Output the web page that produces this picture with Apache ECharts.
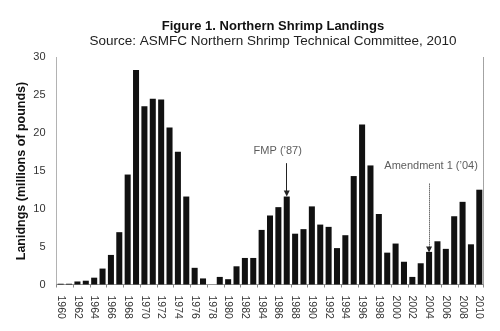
<!DOCTYPE html>
<html>
<head>
<meta charset="utf-8">
<script src="https://cdn.jsdelivr.net/npm/echarts@6/dist/echarts.min.js"></script>
<style>
  html, body { margin: 0; padding: 0; background: #fff; }
  #chart { width: 500px; height: 331px; }
</style>
</head>
<body>
<div id="chart"></div>
<script>
// Northern shrimp landings by year, millions of pounds
const years = [];
for (let y = 1960; y <= 2010; y++) years.push(String(y));
const landings = [
  0.1, 0.1, 0.4, 0.5, 0.9, 2.1, 3.9, 6.9, 14.5, 28.3,
  23.5, 24.5, 24.4, 20.7, 17.5, 11.6, 2.2, 0.8, 0.0, 1.0,
  0.7, 2.4, 3.5, 3.5, 7.2, 9.1, 10.2, 11.6, 6.7, 7.3,
  10.3, 7.9, 7.6, 4.8, 6.5, 14.3, 21.1, 15.7, 9.3, 4.2,
  5.4, 3.0, 1.0, 2.8, 4.3, 5.7, 4.7, 9.0, 10.9, 5.3,
  12.5
];
const yTicks = { min: 0, max: 30, interval: 5 };
const yAxisTitle = 'Lanidngs (millions of pounds)';

// Management milestones: arrow from label down to the bar
const fmp = { year: '1987', label: "FMP (\u201987)", from: 16.0, to: 12.0, text: 17.6, dx: -9, line: 'solid' };
const amendment = { year: '2004', label: "Amendment 1 (\u201904)", from: 13.3, to: 4.6, text: 15.6, dx: 2, line: 'dotted' };
const milestones = [fmp, amendment];

const font = 'Liberation Sans';
const chart = echarts.init(document.getElementById('chart'));

chart.setOption({
  backgroundColor: '#fff',
  animation: false,
  title: [
    {
      text: 'Figure 1. Northern Shrimp Landings',
      left: 268, top: 15, textAlign: 'center',
      textStyle: { fontFamily: font, fontSize: 13, fontWeight: 'bold', color: '#111' }
    },
    {
      text: 'Source: ASMFC Northern Shrimp Technical Committee, 2010',
      left: 268, top: 29, textAlign: 'center',
      textStyle: { fontFamily: font, fontSize: 13.5, fontWeight: 'normal', color: '#222' }
    }
  ],
  // vertical axis title, set beside the tick labels
  graphic: [
    {
      type: 'text',
      x: 22, y: 171,
      rotation: Math.PI / 2,
      style: {
        text: yAxisTitle,
        align: 'center', verticalAlign: 'middle',
        font: 'bold 12.5px "Liberation Sans"', fill: '#111'
      }
    }
  ],
  grid: { left: 56.5, right: 16.5, top: 57, bottom: 46.5 },
  xAxis: [
    {
      type: 'category',
      data: years,
      axisLine: { lineStyle: { color: '#888', width: 1 } },
      axisTick: { show: true, length: 3, lineStyle: { color: '#888' } },
      axisLabel: {
        interval: 1, rotate: -90, margin: 11,
        fontFamily: font, fontSize: 10.5, color: '#333'
      }
    },
    {
      type: 'category',
      position: 'top',
      data: years,
      axisLine: { lineStyle: { color: '#999', type: 'dotted' } },
      axisTick: { show: false },
      axisLabel: { show: false }
    }
  ],
  yAxis: [
    {
      type: 'value',
      min: yTicks.min, max: yTicks.max, interval: yTicks.interval,
      axisLine: { show: true, lineStyle: { color: '#aaa', type: 'dotted' } },
      axisTick: { show: false },
      splitLine: { show: false },
      axisLabel: { margin: 11, fontFamily: font, fontSize: 11, color: '#333' }
    },
    {
      type: 'value',
      position: 'right',
      min: yTicks.min, max: yTicks.max, interval: yTicks.interval,
      axisLine: { show: true, lineStyle: { color: '#999', type: 'dotted' } },
      axisTick: { show: false },
      splitLine: { show: false },
      axisLabel: { show: false }
    }
  ],
  series: [
    {
      type: 'bar',
      data: landings,
      barCategoryGap: '28%',
      itemStyle: { color: '#111' },
      markLine: {
        symbol: ['none', 'triangle'],
        symbolSize: [6, 6],
        silent: true,
        label: { show: false },
        lineStyle: { color: '#222', width: 1 },
        data: milestones.map(m => [
          { coord: [m.year, m.from], lineStyle: { color: '#222', width: 1, type: m.line } },
          { coord: [m.year, m.to] }
        ])
      }
    },
    {
      type: 'scatter',
      symbolSize: 0,
      silent: true,
      data: milestones.map(m => ({
        value: [m.year, m.text],
        label: { show: true, formatter: m.label, offset: [m.dx, 0] }
      })),
      label: { position: 'inside', fontFamily: font, fontSize: 11, color: '#333' }
    }
  ]
});
</script>
</body>
</html>
